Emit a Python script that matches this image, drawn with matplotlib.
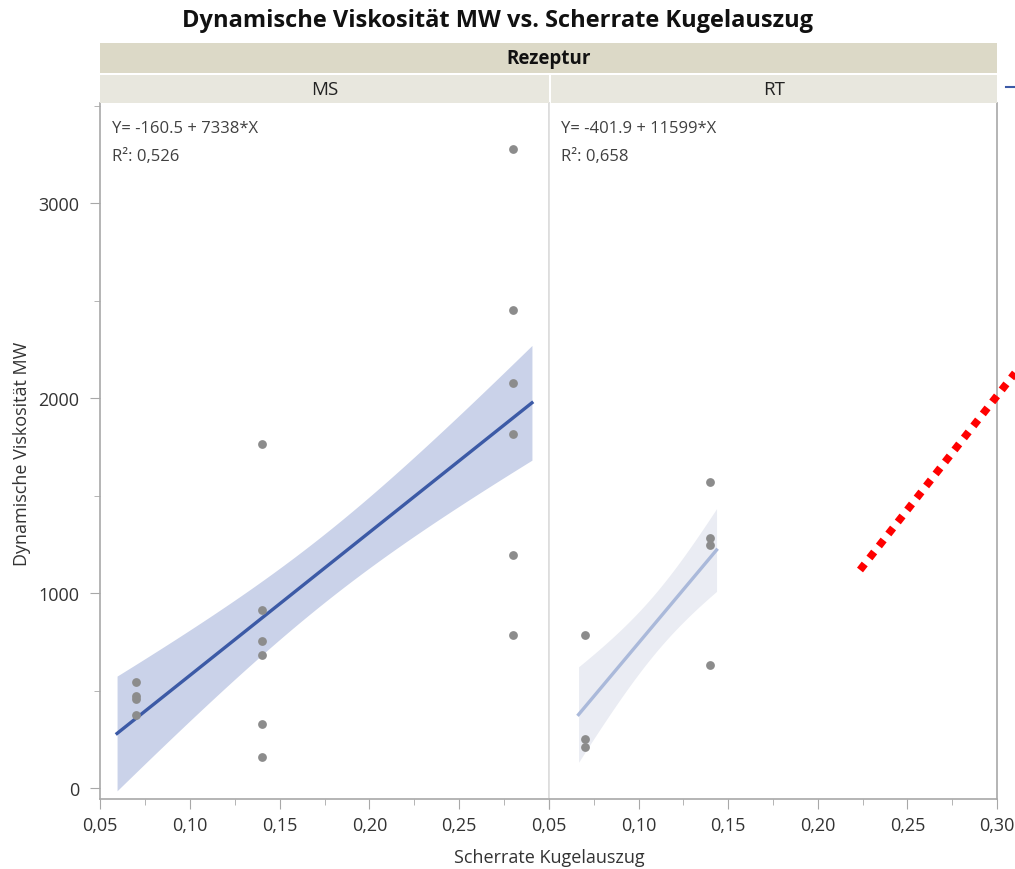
import matplotlib
matplotlib.use("Agg")
import matplotlib.pyplot as plt
from matplotlib.lines import Line2D
from matplotlib.patches import Rectangle
from matplotlib.ticker import MultipleLocator, FuncFormatter
import numpy as np

plt.rcParams['font.family'] = ['Open Sans', 'DejaVu Sans']

# data
ms_x = [0.07, 0.07, 0.07, 0.07,
        0.14, 0.14, 0.14, 0.14, 0.14, 0.14,
        0.28, 0.28, 0.28, 0.28, 0.28, 0.28]
ms_y = [544, 472, 456, 374,
        1764, 913, 754, 682, 328, 159,
        3277, 2451, 2077, 1815, 1195, 785]
rt_x = [0.07, 0.07, 0.07, 0.14, 0.14, 0.14, 0.14]
rt_y = [785, 251, 210, 1570, 1282, 1246, 632]

panels = ["MS", "RT"]
equations = ["Y= -160.5 + 7338*X", "Y= -401.9 + 11599*X"]
r2_labels = ["R²: 0,526", "R²: 0,658"]
band_mult = 1.1  # width of the shaded fit band in standard errors

line_colors = ["#3c5aa6", "#aab9da"]
band_colors = ["#cad2e9", "#eaecf3"]

W, H = 1015, 870
fig = plt.figure(figsize=(W / 100, H / 100), dpi=100)

def fx(px):
    return px / W

def fy(py):
    return 1 - py / H

ax_bottom = fy(800)
ax_h = fy(104) - fy(800)
ax1 = fig.add_axes([fx(100), ax_bottom, fx(449), ax_h])
ax2 = fig.add_axes([fx(549), ax_bottom, fx(448), ax_h], sharey=ax1)
axes = [ax1, ax2]

def comma_fmt(v, p):
    return ("%.2f" % v).replace(".", ",")

for i, (ax, xs, ys) in enumerate(zip(axes, [ms_x, rt_x], [ms_y, rt_y])):
    x = np.array(xs)
    y = np.array(ys)
    n = len(x)
    b, a = np.polyfit(x, y, 1)
    resid = y - (a + b * x)
    s = np.sqrt(np.sum(resid ** 2) / (n - 2))
    xm = x.mean()
    sxx = np.sum((x - xm) ** 2)
    ext = 0.05 * (x.max() - x.min())
    xx = np.linspace(x.min() - ext, x.max() + ext, 100)
    yy = a + b * xx
    half = band_mult * s * np.sqrt(1 / n + (xx - xm) ** 2 / sxx)
    ax.fill_between(xx, yy - half, yy + half, color=band_colors[i], lw=0, zorder=1)
    ax.plot(xx, yy, color=line_colors[i], lw=2.4, zorder=2)
    ax.scatter(x, y, s=40, color="#8c8c8c", zorder=3, lw=0)

    ax.text(0.027, 0.975, equations[i], transform=ax.transAxes, fontsize=12,
            color="#404040", va="top", ha="left")
    ax.text(0.027, 0.936, r2_labels[i], transform=ax.transAxes, fontsize=12,
            color="#404040", va="top", ha="left")

    ax.set_xlim(0.05, 0.30)
    ax.xaxis.set_major_locator(MultipleLocator(0.05))
    ax.xaxis.set_minor_locator(MultipleLocator(0.025))
    ax.xaxis.set_major_formatter(FuncFormatter(comma_fmt))
    ax.spines['top'].set_visible(False)
    for sp in ax.spines.values():
        sp.set_color("#a8a8a8")
        sp.set_linewidth(1.2)
    ax.tick_params(axis='both', which='major', length=7, color="#a8a8a8",
                   labelsize=13, labelcolor="#333333", pad=5)
    ax.tick_params(axis='both', which='minor', length=4, color="#a8a8a8")

# hide the left panel's 0,30 label (covered by the right panel's 0,05)
ax1.xaxis.set_major_formatter(FuncFormatter(lambda v, p: "" if v > 0.29 else comma_fmt(v, p)))

ax1.set_ylim(-56, 3513)
ax1.yaxis.set_major_locator(MultipleLocator(1000))
ax1.yaxis.set_minor_locator(MultipleLocator(500))
ax1.spines['right'].set_color("#dddddd")
ax2.spines['left'].set_color("#dddddd")
ax2.tick_params(axis='y', which='both', left=False, labelleft=False)
ax1.tick_params(axis='y', which='both', right=False)
ax1.tick_params(axis='y', which='major', pad=8)

# shared labels
fig.text(fx(22), fy(454), "Dynamische Viskosität MW", rotation=90,
         ha="center", va="center", fontsize=13, color="#333333")
fig.text(fx(549), fy(858), "Scherrate Kugelauszug", ha="center", va="center",
         fontsize=13, color="#333333")
fig.text(fx(498), fy(21), "Dynamische Viskosität MW vs. Scherrate Kugelauszug",
         ha="center", va="center", fontsize=17, fontweight="bold", color="#111111")

# strips
fig.add_artist(Rectangle((fx(100), fy(74)), fx(897), fy(44) - fy(74),
                         facecolor="#dcd9c7", edgecolor="none"))
fig.text(fx(549), fy(59), "Rezeptur", ha="center", va="center",
         fontsize=13.5, fontweight="bold", color="#111111")
for j, (l, w) in enumerate([(100, 449), (551, 446)]):
    fig.add_artist(Rectangle((fx(l), fy(104)), fx(w), fy(76) - fy(104),
                             facecolor="#e8e7de", edgecolor="none"))
    fig.text(fx(l + w / 2), fy(90), panels[j], ha="center", va="center",
             fontsize=13.5, color="#222222")

# small blue mark at the right edge of the strip and red dotted annotation
fig.add_artist(Line2D([fx(1006), fx(1014)], [fy(88), fy(88)], color="#3c5aa6", lw=1.5))
fig.add_artist(Line2D([fx(860), fx(1015)], [fy(571), fy(374)], color="red",
                      lw=5.5, linestyle=(0, (1, 1))))

fig.savefig("out.png", dpi=100)
